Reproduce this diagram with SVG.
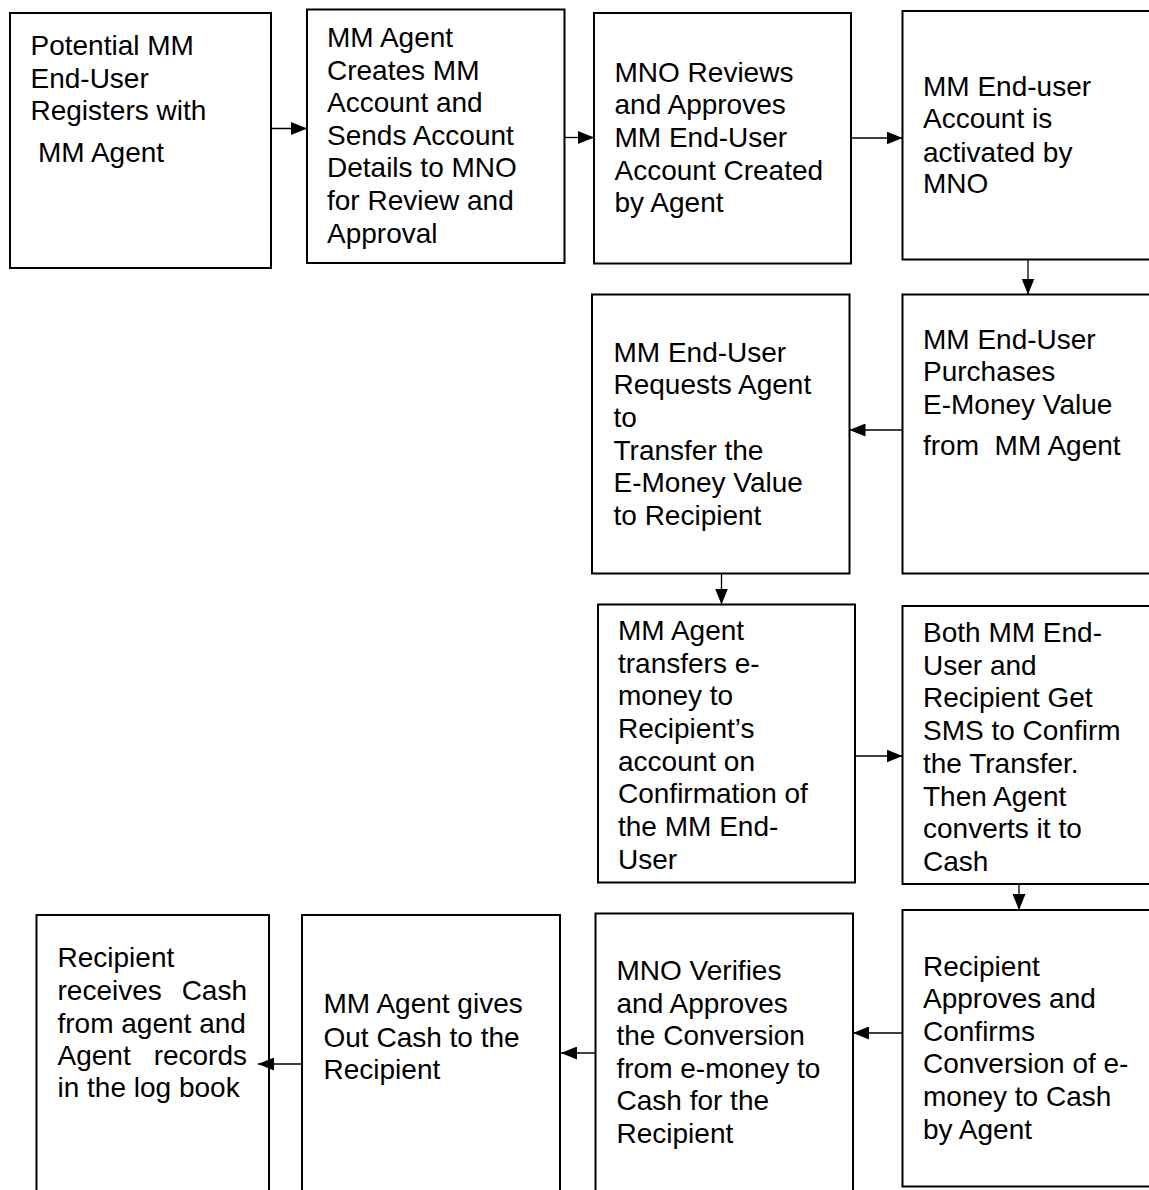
<svg xmlns="http://www.w3.org/2000/svg" width="1149" height="1190" viewBox="0 0 1149 1190">
<style>
.b{fill:#fff;stroke:#000;stroke-width:2}
.t{font-family:"Liberation Sans",Arial,sans-serif;font-size:28px;fill:#000}
.c{stroke:#000;stroke-width:1.3;fill:none;marker-end:url(#ah)}
</style>
<defs>
<marker id="ah" markerUnits="userSpaceOnUse" markerWidth="16" markerHeight="13" refX="16" refY="6.5" orient="auto"><path d="M0,0 L16,6.5 L0,13 z" fill="#000"/></marker>
</defs>
<rect width="1149" height="1190" fill="#fff"/>
<g id="n1"><rect class="b" x="10" y="13" width="261" height="255"/>
<text class="t"><tspan x="30.5" y="55">Potential MM</tspan><tspan x="30.5" y="87.5">End-User</tspan><tspan x="30.5" y="120">Registers with</tspan><tspan x="38" y="161.5">MM Agent</tspan></text></g>
<g id="n2"><rect class="b" x="307" y="9.5" width="257.5" height="253.5"/>
<text class="t"><tspan x="327" y="46.5">MM Agent</tspan><tspan x="327" y="79.5">Creates MM</tspan><tspan x="327" y="112">Account and</tspan><tspan x="327" y="144.5">Sends Account</tspan><tspan x="327" y="177">Details to MNO</tspan><tspan x="327" y="209.5">for Review and</tspan><tspan x="327" y="242.5">Approval</tspan></text></g>
<g id="n3"><rect class="b" x="594" y="13" width="257" height="250.5"/>
<text class="t"><tspan x="614.5" y="81.5">MNO Reviews</tspan><tspan x="614.5" y="114">and Approves</tspan><tspan x="614.5" y="146.5">MM End-User</tspan><tspan x="614.5" y="179.5">Account Created</tspan><tspan x="614.5" y="211.5">by Agent</tspan></text></g>
<g id="n4"><rect class="b" x="902.5" y="11" width="260" height="248.5"/>
<text class="t"><tspan x="923" y="95.5">MM End-user</tspan><tspan x="923" y="128">Account is</tspan><tspan x="923" y="161.5">activated by</tspan><tspan x="923" y="193">MNO</tspan></text></g>
<g id="n5"><rect class="b" x="902.5" y="294.5" width="260" height="279"/>
<text class="t" xml:space="preserve"><tspan x="923" y="349">MM End-User</tspan><tspan x="923" y="381">Purchases</tspan><tspan x="923" y="414">E-Money Value</tspan><tspan x="923" y="455">from  MM Agent</tspan></text></g>
<g id="n6"><rect class="b" x="592" y="294.5" width="257.5" height="279"/>
<text class="t"><tspan x="613.5" y="361.5">MM End-User</tspan><tspan x="613.5" y="394">Requests Agent</tspan><tspan x="613.5" y="426.5">to</tspan><tspan x="613.5" y="459.5">Transfer the</tspan><tspan x="613.5" y="492">E-Money Value</tspan><tspan x="613.5" y="524.5">to Recipient</tspan></text></g>
<g id="n7"><rect class="b" x="598" y="604.5" width="257" height="278"/>
<text class="t"><tspan x="618" y="640">MM Agent</tspan><tspan x="618" y="672.5">transfers e-</tspan><tspan x="618" y="705">money to</tspan><tspan x="618" y="738">Recipient’s</tspan><tspan x="618" y="771">account on</tspan><tspan x="618" y="803">Confirmation of</tspan><tspan x="618" y="836">the MM End-</tspan><tspan x="618" y="869">User</tspan></text></g>
<g id="n8"><rect class="b" x="902.5" y="606" width="260" height="278"/>
<text class="t"><tspan x="923" y="641.5">Both MM End-</tspan><tspan x="923" y="674.5">User and</tspan><tspan x="923" y="707">Recipient Get</tspan><tspan x="923" y="739.5">SMS to Confirm</tspan><tspan x="923" y="772.5">the Transfer.</tspan><tspan x="923" y="805.5">Then Agent</tspan><tspan x="923" y="838">converts it to</tspan><tspan x="923" y="870.5">Cash</tspan></text></g>
<g id="n9"><rect class="b" x="902.5" y="910" width="260" height="276.5"/>
<text class="t"><tspan x="923" y="976">Recipient</tspan><tspan x="923" y="1008">Approves and</tspan><tspan x="923" y="1040.5">Confirms</tspan><tspan x="923" y="1073">Conversion of e-</tspan><tspan x="923" y="1106">money to Cash</tspan><tspan x="923" y="1139">by Agent</tspan></text></g>
<g id="n10"><rect class="b" x="595.5" y="913.5" width="257.5" height="290"/>
<text class="t"><tspan x="616.5" y="980">MNO Verifies</tspan><tspan x="616.5" y="1012.5">and Approves</tspan><tspan x="616.5" y="1045">the Conversion</tspan><tspan x="616.5" y="1077.5">from e-money to</tspan><tspan x="616.5" y="1110">Cash for the</tspan><tspan x="616.5" y="1142.5">Recipient</tspan></text></g>
<g id="n11"><rect class="b" x="302" y="915" width="258" height="290"/>
<text class="t"><tspan x="323.5" y="1013">MM Agent gives</tspan><tspan x="323.5" y="1046.5">Out Cash to the</tspan><tspan x="323.5" y="1079">Recipient</tspan></text></g>
<g id="n12"><rect class="b" x="36.5" y="915" width="232.5" height="290"/>
<text class="t"><tspan x="57.5" y="966.5">Recipient</tspan><tspan x="57.5" y="1000">receives</tspan><tspan x="57.5" y="1032.5">from agent and</tspan><tspan x="57.5" y="1065">Agent</tspan><tspan x="57.5" y="1096.5">in the log book</tspan></text>
<text class="t" text-anchor="end"><tspan x="247" y="1000">Cash</tspan><tspan x="247" y="1065">records</tspan></text></g>
<g id="connectors">
<line class="c" x1="271" y1="128.5" x2="307" y2="128.5"/>
<line class="c" x1="564.5" y1="137.5" x2="594" y2="137.5"/>
<line class="c" x1="851" y1="138" x2="902.5" y2="138"/>
<line class="c" x1="1028" y1="259.5" x2="1028" y2="294.5"/>
<line class="c" x1="902.5" y1="430" x2="849.5" y2="430"/>
<line class="c" x1="721.5" y1="573.5" x2="721.5" y2="604.5"/>
<line class="c" x1="855" y1="756" x2="902.5" y2="756"/>
<line class="c" x1="1019" y1="884" x2="1019" y2="910"/>
<line class="c" x1="902.5" y1="1033" x2="853" y2="1033"/>
<line class="c" x1="595.5" y1="1053" x2="561" y2="1053"/>
<line class="c" x1="302" y1="1064" x2="258" y2="1064"/>
</g>
</svg>
